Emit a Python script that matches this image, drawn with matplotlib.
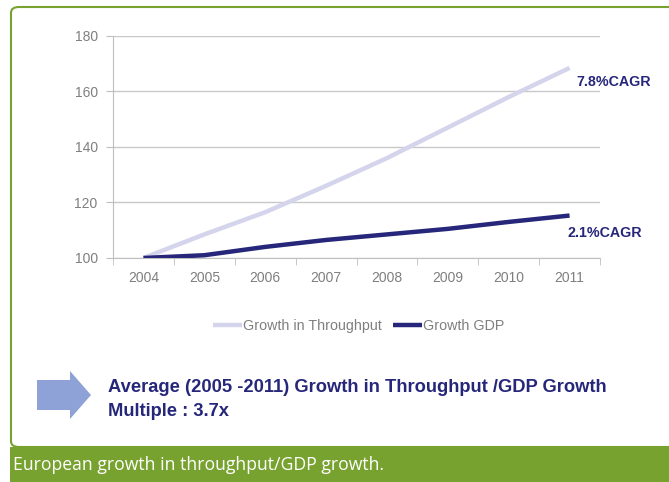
import matplotlib
matplotlib.use("Agg")
import matplotlib.pyplot as plt
from matplotlib.patches import FancyBboxPatch, FancyArrow, Rectangle

# ---------------- data ----------------
years = ["2004", "2005", "2006", "2007", "2008", "2009", "2010", "2011"]
throughput = [100, 108.5, 116.5, 126, 136, 147, 158, 168.5]
gdp = [100, 101, 104, 106.5, 108.5, 110.5, 113, 115.3]
y_ticks = [100, 120, 140, 160, 180]

LIGHT = "#D4D4EC"
NAVY = "#26267A"
GREEN = "#78A22F"
GREY = "#7F7F7F"

plt.rcParams["font.family"] = ["Liberation Sans", "DejaVu Sans"]

fig = plt.figure(figsize=(6.69, 4.82), dpi=100)

# frame + caption bar
frame = FancyBboxPatch((11 / 669, 35 / 482), 700 / 669, 440 / 482,
                       boxstyle="round,pad=0,rounding_size=0.012",
                       transform=fig.transFigure, fill=False,
                       edgecolor=GREEN, linewidth=1.5, zorder=0)
fig.patches.append(frame)
bar = Rectangle((10 / 669, 0), 1, 35 / 482, transform=fig.transFigure,
                facecolor=GREEN, edgecolor="none", zorder=1)
fig.patches.append(bar)
fig.text(13 / 669, 17 / 482, "European growth in throughput/GDP growth.",
         color="white", fontsize=12.7, family=["Open Sans", "DejaVu Sans"],
         va="center", ha="left")

# chart
ax = fig.add_axes([113 / 669, 1 - 258 / 482, 487 / 669, 222 / 482])
x = list(range(len(years)))
ax.plot(x, throughput, color=LIGHT, lw=3.2, label="Growth in Throughput",
        solid_capstyle="butt", zorder=3)
ax.plot(x, gdp, color=NAVY, lw=3.2, label="Growth GDP",
        solid_capstyle="butt", zorder=4)

ax.set_xlim(-0.5, len(years) - 0.5)
ax.set_ylim(100, 180)
ax.set_yticks(y_ticks)
ax.set_xticks(x)
ax.set_xticklabels(years)
ax.set_xticks([i - 0.5 for i in range(len(years) + 1)], minor=True)
ax.tick_params(axis="x", which="major", length=0, pad=9, labelsize=10, labelcolor=GREY)
ax.tick_params(axis="x", which="minor", length=5, color="#BFBFBF", direction="out")
ax.tick_params(axis="y", length=5, color="#BFBFBF", labelsize=10, labelcolor=GREY, pad=6)
ax.grid(axis="y", color="#C8C8C8", lw=1)
ax.set_axisbelow(True)
for s in ["top", "right"]:
    ax.spines[s].set_visible(False)
for s in ["left", "bottom"]:
    ax.spines[s].set_color("#BFBFBF")
ax.patch.set_alpha(0)

ax.annotate("7.8%CAGR", xy=(576 / 669, 1 - 82 / 482), xycoords="figure fraction",
            color=NAVY, fontsize=10.3, fontweight="bold", va="center", ha="left")
ax.annotate("2.1%CAGR", xy=(568 / 669, 1 - 233 / 482), xycoords="figure fraction",
            color=NAVY, fontsize=10.3, fontweight="bold", va="center", ha="left")

leg = fig.legend(loc="center", bbox_to_anchor=(359 / 669, 1 - 326 / 482), ncol=2,
                 frameon=False, fontsize=10.3, handlelength=2.0, handletextpad=0.1,
                 columnspacing=0.8)
for t in leg.get_texts():
    t.set_color(GREY)

# arrow + note
arrow = FancyArrow(37 / 669, 1 - 395 / 482, 33 / 669, 0, width=30 / 482,
                   head_width=48 / 482, head_length=21 / 669,
                   length_includes_head=False, transform=fig.transFigure,
                   facecolor="#8FA2D8", edgecolor="none")
fig.patches.append(arrow)
fig.text(108 / 669, 1 - 388 / 482, "Average (2005 -2011) Growth in Throughput /GDP Growth",
         color=NAVY, fontsize=13.2, fontweight="bold", va="center", ha="left")
fig.text(108 / 669, 1 - 411 / 482, "Multiple : 3.7x",
         color=NAVY, fontsize=13.2, fontweight="bold", va="center", ha="left")

fig.savefig("out.png", dpi=100)
